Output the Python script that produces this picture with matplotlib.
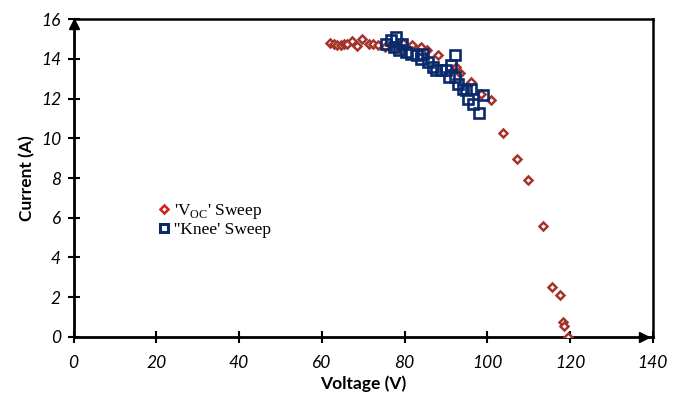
import matplotlib
matplotlib.use('Agg')
import matplotlib.pyplot as plt

# 'Voc' sweep points (V, A)
voc_v = [61.9, 62.9, 63.6, 64.6, 65.3, 66.0, 67.2, 68.4, 69.6, 71.3, 72.3, 73.5,
         75.2, 77.5, 79.5, 81.9, 84.0, 85.5, 88.1, 92.5, 93.3, 96.1, 98.5, 100.9,
         103.9, 107.1, 109.9, 113.4, 115.7, 117.6, 118.2, 118.6, 119.6]
voc_i = [14.77, 14.72, 14.67, 14.67, 14.72, 14.72, 14.87, 14.62, 14.97, 14.72, 14.72, 14.67,
         14.6, 14.5, 14.77, 14.67, 14.59, 14.45, 14.17, 13.58, 13.27, 12.83, 12.25, 11.94,
         10.27, 8.96, 7.9, 5.56, 2.51, 2.11, 0.77, 0.57, 0.0]

# 'Knee' sweep points (V, A)
knee_v = [75.4, 76.8, 78.0, 77.4, 78.6, 79.4, 80.4, 81.6, 83.0, 84.4, 84.0, 85.6,
          86.8, 87.7, 88.9, 90.1, 92.1, 91.3, 90.7, 92.1, 92.9, 94.1, 94.9, 96.1,
          95.3, 96.5, 98.9, 98.1]
knee_i = [14.72, 14.96, 15.09, 14.59, 14.46, 14.76, 14.34, 14.26, 14.2, 14.26, 14.0, 13.83,
          13.58, 13.45, 13.42, 13.42, 14.17, 13.67, 13.08, 13.08, 12.75, 12.5, 12.41, 12.5,
          12.0, 11.74, 12.16, 11.27]

x_ticks = [0, 20, 40, 60, 80, 100, 120, 140]
y_ticks = [0, 2, 4, 6, 8, 10, 12, 14, 16]

fig = plt.figure(figsize=(6.84, 3.96), dpi=100)
ax = fig.add_axes([0.1075, 0.149, 0.847, 0.803])

ax.plot(voc_v, voc_i, 'D', ls='none', ms=4.5, mfc='white', mec='#A3342C', mew=1.8,
        label="'V$_{\\mathregular{OC}}$' Sweep", zorder=3)
ax.plot(knee_v, knee_i, 's', ls='none', ms=7.5, mfc='none', mec='#0B2A6B', mew=1.9,
        label="''Knee' Sweep", zorder=4)

ax.set_xlim(0, 140)
ax.set_ylim(0, 16)
ax.set_xticks(x_ticks)
ax.set_yticks(y_ticks)
ax.tick_params(direction='inout', length=8, width=1.5, labelsize=12.5, pad=5)
for lab in ax.get_xticklabels() + ax.get_yticklabels():
    lab.set_fontstyle('italic')
    lab.set_fontfamily('Lato')
ax.tick_params(axis='x', pad=9)

for s in ['left', 'bottom']:
    ax.spines[s].set_linewidth(2)
for s in ['top', 'right']:
    ax.spines[s].set_linewidth(1.8)

# arrow heads at the ends of the axes
ax.plot([0], [0.985], '^', color='black', ms=7, transform=ax.transAxes, clip_on=False, zorder=5)
ax.plot([0.985], [0], '>', color='black', ms=7, transform=ax.transAxes, clip_on=False, zorder=5)

ax.set_xlabel('Voltage (V)', fontsize=12.5, fontweight='bold', fontfamily='Lato', labelpad=3)
ax.set_ylabel('Current (A)', fontsize=12.5, fontweight='bold', fontfamily='Lato', labelpad=4)

leg = ax.legend(loc='upper left', bbox_to_anchor=(0.115, 0.475), frameon=False,
                prop={'family': 'Liberation Serif', 'size': 12.5},
                handletextpad=0.05, labelspacing=0.1, handlelength=1.0)
leg.legend_handles[0].set_markeredgecolor('#D0201E')
leg.legend_handles[0].set_markersize(4.5)
leg.legend_handles[1].set_markersize(5.5)
leg.legend_handles[1].set_markeredgewidth(2.2)

fig.savefig('out.png', dpi=100)
